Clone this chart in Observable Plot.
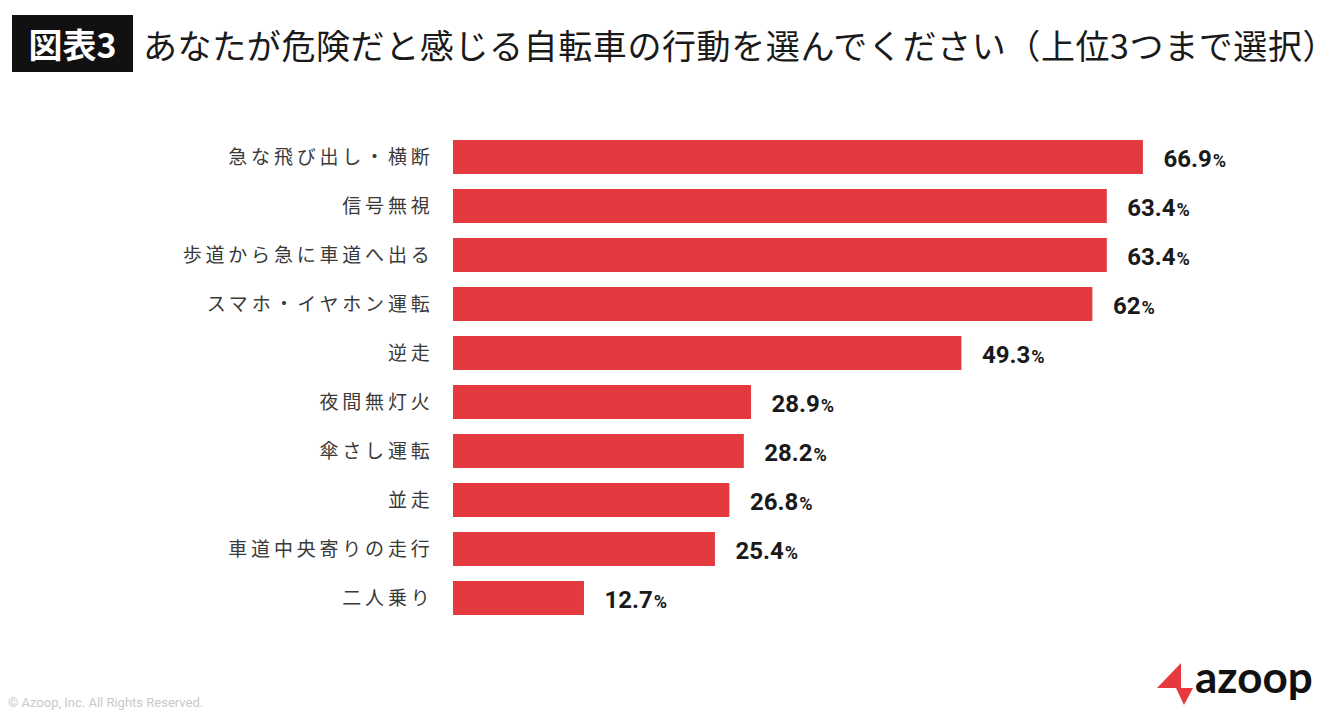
<!DOCTYPE html>
<html>
<head>
<meta charset="utf-8">
<script src="https://cdn.jsdelivr.net/npm/d3@7"></script>
<script src="https://cdn.jsdelivr.net/npm/@observablehq/plot@0.6"></script>
<style>
  html, body { margin: 0; padding: 0; background: #fff; }
  body { width: 1340px; height: 712px; position: relative; overflow: hidden; font-family: "Noto Sans CJK JP", "Noto Sans", sans-serif; }
  #header { position: relative; height: 100px; }
  #badge { position: absolute; left: 12px; top: 15px; width: 121px; height: 57px; background: #111; color: #fff;
           font-weight: 700; font-size: 34px; line-height: 57px; text-align: center; letter-spacing: 0px; }
  #title { position: absolute; left: 143px; top: 21px; font-size: 34px; line-height: 48px; color: #1a1a1a; font-weight: 400; white-space: nowrap; letter-spacing: 0.6px; }
  #copy { position: absolute; left: 8px; top: 695px; font-family: Roboto, "Noto Sans", sans-serif; font-size: 13px; color: #c9c9c9; }
  #logo { position: absolute; left: 0; top: 0; pointer-events: none; }
</style>
</head>
<body>
<div id="header">
  <div id="badge">図表3</div>
  <div id="title">あなたが危険だと感じる自転車の行動を選んでください（上位3つまで選択）</div>
</div>
<div id="chart"></div>
<div id="copy">© Azoop, Inc. All Rights Reserved.</div>
<svg id="logo" width="1340" height="712">
  <polygon points="1181,663 1157,688 1181,688" fill="#e5393d"/>
  <polygon points="1176,688 1193,688 1184,705" fill="#e5393d"/>
  <text x="1195" y="693" font-family="Lato, 'DejaVu Sans', sans-serif" font-weight="700" font-size="44" fill="#111">azoop</text>
</svg>
<script>
const categories = ["急な飛び出し・横断", "信号無視", "歩道から急に車道へ出る", "スマホ・イヤホン運転", "逆走", "夜間無灯火", "傘さし運転", "並走", "車道中央寄りの走行", "二人乗り"];
const values = [66.9, 63.4, 63.4, 62, 49.3, 28.9, 28.2, 26.8, 25.4, 12.7];
const valueLabels = ["66.9", "63.4", "63.4", "62", "49.3", "28.9", "28.2", "26.8", "25.4", "12.7"];

const data = categories.map((c, i) => ({category: c, value: values[i], label: valueLabels[i]}));

const chart = Plot.plot({
  width: 1340,
  height: 612,
  marginLeft: 453,
  marginRight: 62,
  marginTop: 22,
  marginBottom: 79,
  x: {domain: [0, 80], axis: null},
  y: {domain: categories, padding: 0.3, label: null},
  style: {background: "transparent"},
  marks: [
    Plot.barX(data, {x: "value", y: "category", fill: "#e23a3f"}),
    Plot.text(data, {x: "value", y: "category", text: "label", dx: 20, dy: 2, textAnchor: "start",
      fill: "#1a1a1a", fontSize: 24, fontWeight: 700, fontFamily: "Roboto, 'DejaVu Sans', sans-serif"}),
    Plot.axisY({tickSize: 0, tickPadding: 20, label: null, fontSize: 19, fill: "#3a3a3a"})
  ]
});
document.getElementById("chart").appendChild(chart);

const svg = d3.select(chart);
svg.selectAll('g[aria-label="y-axis tick label"] text, g[aria-label="y-axis tick label"]')
  .style("font-family", "'Noto Sans CJK JP', sans-serif")
  .style("font-size", "19px")
  .style("letter-spacing", "3.8px");
svg.selectAll('g[aria-label="text"] text').each(function() {
  const t = d3.select(this);
  const txt = this.textContent;
  t.text(txt);
  t.append("tspan").attr("font-size", 18).attr("dx", 1).text("%");
});
</script>
</body>
</html>
